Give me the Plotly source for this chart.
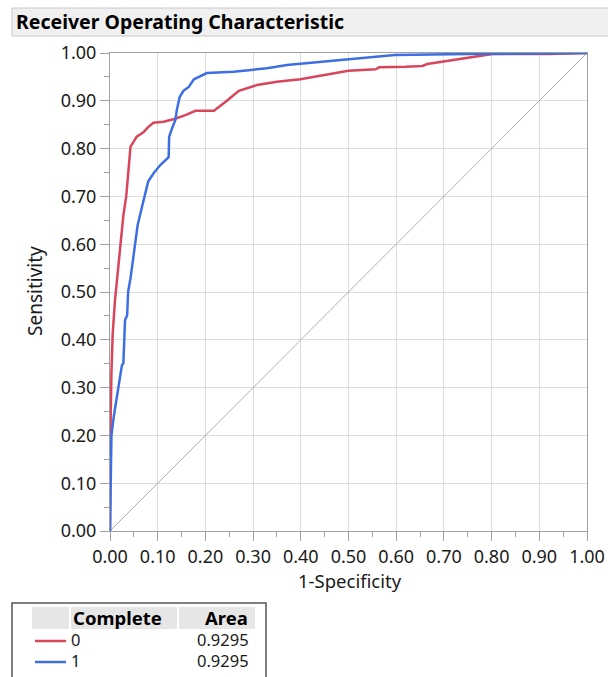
import plotly.graph_objects as go

# ---- data ----
red_x = [0, 0, 0.001, 0.0014, 0.003, 0.0057, 0.0105, 0.016, 0.022, 0.025, 0.028, 0.034, 0.040, 0.043,
         0.050, 0.056, 0.070, 0.080, 0.091, 0.112, 0.135, 0.158, 0.179, 0.218, 0.245, 0.270, 0.308,
         0.350, 0.399, 0.450, 0.500, 0.557, 0.564, 0.620, 0.655, 0.665, 0.700, 0.750, 0.802, 0.850,
         0.921, 1.0]
red_y = [0, 0.09, 0.18, 0.24, 0.33, 0.414, 0.483, 0.54, 0.60, 0.63, 0.66, 0.70, 0.78, 0.804,
         0.815, 0.825, 0.834, 0.845, 0.854, 0.856, 0.862, 0.870, 0.879, 0.879, 0.900, 0.921, 0.933,
         0.940, 0.945, 0.954, 0.963, 0.966, 0.970, 0.971, 0.973, 0.977, 0.982, 0.990, 0.998, 0.998,
         0.998, 1.0]
blue_x = [0, 0.001, 0.003, 0.008, 0.014, 0.020, 0.025, 0.028, 0.0315, 0.036, 0.038, 0.043, 0.047,
          0.050, 0.058, 0.067, 0.080, 0.091, 0.105, 0.123, 0.124, 0.130, 0.137, 0.140, 0.146, 0.154,
          0.165, 0.176, 0.190, 0.203, 0.259, 0.329, 0.371, 0.427, 0.503, 0.597, 0.755, 1.0]
blue_y = [0, 0.10, 0.20, 0.24, 0.281, 0.32, 0.347, 0.351, 0.441, 0.452, 0.50, 0.529, 0.56,
          0.588, 0.64, 0.678, 0.731, 0.748, 0.765, 0.782, 0.825, 0.842, 0.860, 0.880, 0.908, 0.921,
          0.929, 0.945, 0.952, 0.958, 0.961, 0.968, 0.975, 0.980, 0.987, 0.996, 0.998, 1.0]
diag = [0, 1]

legend_labels = ["0", "1"]
legend_areas = ["0.9295", "0.9295"]
tick_vals = [i / 10 for i in range(11)]
tick_text = [f"{v:.2f}" for v in tick_vals]

RED = "#d8465c"
BLUE = "#3d6fe3"
FONT = "Noto Sans"
TXT = "#1a1a1a"

# ---- layout geometry (pixels) ----
W, H = 608, 677
L, R, T, B = 110, 587, 53, 531


def px(x):
    return (x - L) / (R - L)


def py(y):
    return (B - y) / (B - T)


fig = go.Figure()
fig.add_trace(go.Scatter(x=diag, y=diag, mode="lines", line=dict(color="#b0b0b0", width=1), hoverinfo="skip"))
fig.add_trace(go.Scatter(x=red_x, y=red_y, mode="lines", line=dict(color=RED, width=2.5)))
fig.add_trace(go.Scatter(x=blue_x, y=blue_y, mode="lines", line=dict(color=BLUE, width=2.5)))

axis_common = dict(
    range=[0, 1], tickvals=tick_vals, ticktext=tick_text, showgrid=True, gridcolor="#dddddd",
    gridwidth=1, showline=True, linecolor="#a0a0a0", linewidth=1, mirror=True, ticks="outside",
    ticklen=9, tickcolor="#a0a0a0", zeroline=False, automargin=False,
    tickfont=dict(family=FONT, size=18, color=TXT),
    minor=dict(dtick=0.05, ticks="outside", ticklen=5, tickcolor="#a0a0a0", showgrid=False),
)
fig.update_xaxes(**axis_common)
fig.update_yaxes(**axis_common)

shapes = []
annotations = []

# title bar
shapes.append(dict(type="rect", xref="paper", yref="paper", x0=px(12), x1=px(612), y0=py(36), y1=py(8),
                   fillcolor="#f0f0f0", line=dict(color="#c8c8c8", width=1), layer="below"))
annotations.append(dict(text="<b>Receiver Operating Characteristic</b>", xref="paper", yref="paper",
                        x=px(14), y=py(21), xanchor="left", yanchor="middle", showarrow=False,
                        font=dict(family=FONT, size=19.5, color="#000000")))

# axis titles
annotations.append(dict(text="Sensitivity", xref="paper", yref="paper", x=px(35), y=py(291),
                        xanchor="center", yanchor="middle", textangle=-90, showarrow=False,
                        font=dict(family=FONT, size=19, color=TXT)))
annotations.append(dict(text="1-Specificity", xref="paper", yref="paper", x=px(350), y=py(580),
                        xanchor="center", yanchor="middle", showarrow=False, borderpad=0,
                        font=dict(family=FONT, size=18.5, color=TXT)))

# legend table
shapes.append(dict(type="rect", xref="paper", yref="paper", x0=px(12), x1=px(266), y0=py(690), y1=py(603),
                   fillcolor="white", line=dict(color="#555555", width=1.5)))
for x0, x1 in [(32, 69), (71, 177), (179, 255)]:
    shapes.append(dict(type="rect", xref="paper", yref="paper", x0=px(x0), x1=px(x1), y0=py(629), y1=py(607),
                       fillcolor="#e6e6e6", line=dict(width=0)))
annotations.append(dict(text="<b>Complete</b>", xref="paper", yref="paper", x=px(71), y=py(617),
                        xanchor="left", yanchor="middle", showarrow=False,
                        font=dict(family=FONT, size=18.5, color="#000000")))
annotations.append(dict(text="<b>Area</b>", xref="paper", yref="paper", x=px(250), y=py(617),
                        xanchor="right", yanchor="middle", showarrow=False,
                        font=dict(family=FONT, size=18.5, color="#000000")))
row_y = [639, 660]
for lab, area, col, yy in zip(legend_labels, legend_areas, [RED, BLUE], row_y):
    shapes.append(dict(type="line", xref="paper", yref="paper", x0=px(35), x1=px(66), y0=py(yy + 2),
                       y1=py(yy + 2), line=dict(color=col, width=2.5)))
    annotations.append(dict(text=lab, xref="paper", yref="paper", x=px(70), y=py(yy),
                            xanchor="left", yanchor="middle", showarrow=False, borderpad=0,
                            font=dict(family=FONT, size=16.5, color=TXT)))
    annotations.append(dict(text=area, xref="paper", yref="paper", x=px(250), y=py(yy),
                            xanchor="right", yanchor="middle", showarrow=False, borderpad=0,
                            font=dict(family=FONT, size=16.5, color=TXT)))

fig.update_layout(
    width=W, height=H, margin=dict(l=L, r=W - R, t=T, b=H - B),
    paper_bgcolor="white", plot_bgcolor="white", showlegend=False,
    shapes=shapes, annotations=annotations,
)
fig.write_html("out.html")
